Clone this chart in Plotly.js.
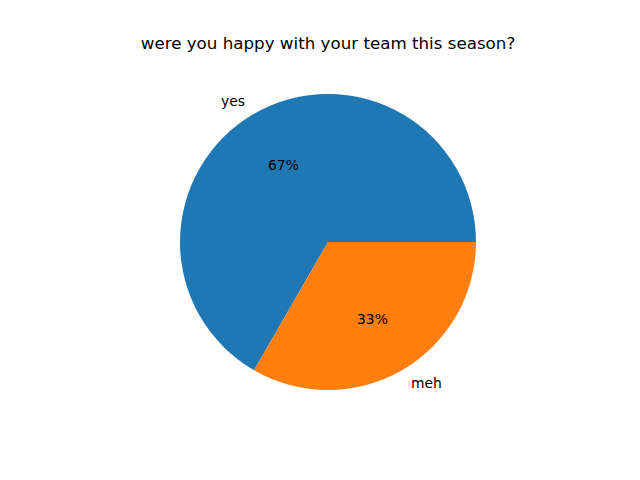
<!DOCTYPE html>
<html>
<head>
<meta charset="utf-8">
<script src="https://cdn.plot.ly/plotly-3.0.1.min.js"></script>
<style>html,body{margin:0;padding:0;background:#fff;}#chart{width:640px;height:480px;}</style>
</head>
<body>
<div id="chart"></div>
<script>
const labels = ["yes", "meh"];
const values = [2, 1];
const colors = ["#1f77b4", "#ff7f0e"];
const titleText = "were you happy with your team this season?";

const W = 640, H = 480;
const cx = 328, cy = 242, R = 148;

const total = values.reduce((a, b) => a + b, 0);
const annotations = [];
let start = 0;
values.forEach((v, i) => {
  const frac = v / total;
  const mid = (start + frac / 2) * 2 * Math.PI;
  start += frac;
  const c = Math.cos(mid), s = Math.sin(mid);
  annotations.push({
    xref: "paper", yref: "paper",
    x: (cx + 1.1 * R * c) / W, y: 1 - (cy - 1.1 * R * s) / H,
    text: labels[i], showarrow: false,
    xanchor: c < 0 ? "right" : "left", yanchor: "middle",
    font: {family: "DejaVu Sans", size: 13.9, color: "#000"}
  });
  annotations.push({
    xref: "paper", yref: "paper",
    x: (cx + 0.6 * R * c) / W, y: 1 - (cy - 0.6 * R * s) / H,
    text: Math.round(frac * 100) + "%", showarrow: false,
    xanchor: "center", yanchor: "middle",
    font: {family: "DejaVu Sans", size: 13.9, color: "#000"}
  });
});

// Plotly places the end of the first counterclockwise slice at (90 - rotation) degrees
const firstEndDeg = 360 * values[0] / total;
const trace = {
  type: "pie",
  labels: labels,
  values: values,
  sort: false,
  direction: "counterclockwise",
  rotation: 90 - firstEndDeg,
  textinfo: "none",
  hoverinfo: "label+percent",
  marker: {colors: colors, line: {width: 0}},
  domain: {x: [(cx - R) / W, (cx + R) / W], y: [1 - (cy + R) / H, 1 - (cy - R) / H]}
};

const layout = {
  width: W, height: H,
  margin: {l: 0, r: 0, t: 0, b: 0},
  paper_bgcolor: "#fff",
  showlegend: false,
  title: {
    text: titleText,
    x: 328 / W, xanchor: "center",
    y: 1 - 43 / H, yanchor: "middle",
    font: {family: "DejaVu Sans", size: 16.7, color: "#000"}
  },
  annotations: annotations
};

Plotly.newPlot("chart", [trace], layout, {staticPlot: true});
</script>
</body>
</html>
